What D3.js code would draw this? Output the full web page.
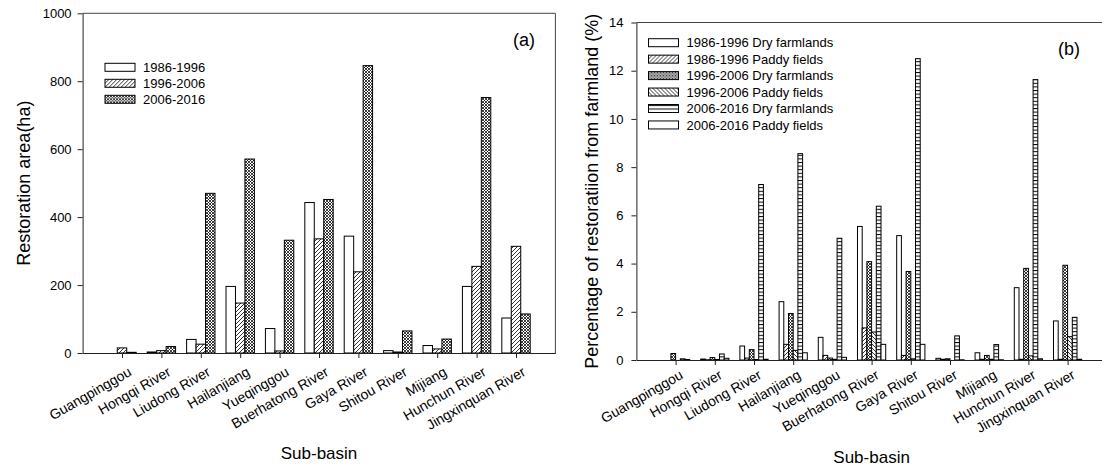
<!DOCTYPE html>
<html>
<head>
<meta charset="utf-8">
<script src="https://cdn.jsdelivr.net/npm/d3@7"></script>
<style>
  body { margin: 0; background: #fff; }
  text { font-family: "Liberation Sans", Arial, sans-serif; fill: #000; }
</style>
</head>
<body>
<div id="vis"></div>
<script>
const categories = ["Guangpinggou", "Hongqi River", "Liudong River", "Hailanjiang", "Yueqinggou",
    "Buerhatong River", "Gaya River", "Shitou River", "Mijiang", "Hunchun River", "Jingxinquan River"];

// panel (a): restoration area (ha)
const areaNames = ["1986-1996", "1996-2006", "2006-2016"];
const area1986 = [0, 3, 40, 196, 72, 443, 344, 7, 22, 196, 103];
const area1996 = [15, 7, 26, 147, 6, 336, 239, 3, 12, 255, 314];
const area2006 = [2, 19, 470, 571, 332, 452, 846, 65, 41, 752, 115];
const areaTicks = [0, 200, 400, 600, 800, 1000];

// panel (b): percentage of restoration from farmland (%)
const pctNames = ["1986-1996 Dry farmlands", "1986-1996 Paddy fields", "1996-2006 Dry farmlands",
    "1996-2006 Paddy fields", "2006-2016 Dry farmlands", "2006-2016 Paddy fields"];
const dry1986 = [0, 0.04, 0.58, 2.42, 0.94, 5.54, 5.16, 0.07, 0.30, 3.0, 1.62];
const paddy1986 = [0, 0.01, 0.08, 0.65, 0.19, 1.33, 0.19, 0.03, 0.03, 0.03, 0.03];
const dry1996 = [0.27, 0.1, 0.43, 1.93, 0.08, 4.08, 3.67, 0.05, 0.19, 3.80, 3.93];
const paddy1996 = [0, 0.02, 0.02, 0.40, 0.03, 1.16, 0.05, 0, 0.03, 0.17, 0.97];
const dry2006 = [0.05, 0.25, 7.28, 8.56, 5.05, 6.38, 12.5, 1.0, 0.64, 11.63, 1.77];
const paddy2006 = [0.02, 0.07, 0.03, 0.30, 0.11, 0.65, 0.65, 0.01, 0.01, 0.05, 0.03];
const pctTicks = [0, 2, 4, 6, 8, 10, 12, 14];

const width = 1102, height = 470;

var svg = d3.select("#vis")
    .append("svg")
    .attr("width", width)
    .attr("height", height);

// fill patterns (SigmaPlot style hatches)
var defs = svg.append("defs");
function addPattern(id, w, h, d, sw) {
    var p = defs.append("pattern")
        .attr("id", id)
        .attr("patternUnits", "userSpaceOnUse")
        .attr("width", w)
        .attr("height", h);
    p.append("rect").attr("width", w).attr("height", h).attr("fill", "#fff");
    p.append("path").attr("d", d).attr("stroke", "#000").attr("stroke-width", sw).attr("fill", "none");
}
addPattern("fwd", 4, 4, "M-1,1 l2,-2 M0,4 l4,-4 M3,5 l2,-2", 0.8);
addPattern("back", 4, 4, "M-1,3 l2,2 M0,0 l4,4 M3,-1 l2,2", 0.8);
addPattern("cross", 3, 3, "M-1,1 l2,-2 M0,3 l3,-3 M2,4 l2,-2 M-1,2 l2,2 M0,0 l3,3 M2,-1 l2,2", 0.75);
addPattern("horiz", 4, 3.6, "M0,0.5 h4", 1);

function drawPanel(cfg) {
    var g = svg.append("g");

    var x = d3.scaleLinear().domain([0, 12]).range([cfg.left, cfg.right]);
    var y = d3.scaleLinear().domain([0, cfg.yMax]).range([cfg.bottom, cfg.top]);

    var groupW = 0.72 * (x(1) - x(0));
    var inner = d3.scaleBand()
        .domain(d3.range(cfg.series.length))
        .range([-groupW / 2, groupW / 2]);

    // frame: top and right lines
    g.append("path")
        .attr("d", "M" + cfg.left + "," + cfg.top + "H" + cfg.right + "V" + cfg.bottom)
        .attr("fill", "none")
        .attr("stroke", "#444")
        .attr("stroke-width", 1);

    // bars, one group per series
    cfg.series.forEach(function (s, si) {
        var pts = s.values
            .map(function (v, i) { return { v: v, i: i }; })
            .filter(function (d) { return d.v > 0; });
        g.append("g").selectAll("rect")
            .data(pts)
            .enter()
            .append("rect")
            .attr("x", function (d) { return x(d.i + 1) + inner(si); })
            .attr("width", inner.bandwidth())
            .attr("y", function (d) { return y(d.v); })
            .attr("height", function (d) { return y(0) - y(d.v); })
            .attr("fill", s.fill)
            .attr("stroke", "#000")
            .attr("stroke-width", 1);
    });

    // x axis
    var xAxis = g.append("g")
        .attr("transform", "translate(0," + cfg.bottom + ")")
        .call(d3.axisBottom(x)
            .tickValues(d3.range(1, 12))
            .tickFormat(function (d) { return categories[d - 1]; })
            .tickSize(5)
            .tickSizeOuter(0));
    xAxis.selectAll("text")
        .attr("x", 0)
        .attr("y", 0)
        .attr("dy", "0.71em")
        .attr("text-anchor", "end")
        .attr("font-size", 14)
        .attr("transform", "translate(" + cfg.labelDx + "," + cfg.labelGap + ") rotate(-30)");

    // y axis
    var yAxis = g.append("g")
        .attr("transform", "translate(" + cfg.left + ",0)")
        .call(d3.axisLeft(y)
            .tickValues(cfg.yTicks)
            .tickFormat(d3.format("d"))
            .tickSize(5)
            .tickPadding(cfg.tickPad)
            .tickSizeOuter(0));
    yAxis.selectAll("text").attr("font-size", 13);
    g.selectAll(".domain, .tick line").attr("stroke", "#222");

    // axis titles
    g.append("text")
        .attr("transform", "translate(" + cfg.yTitleX + "," + ((cfg.top + cfg.bottom) / 2) + ") rotate(-90)")
        .attr("text-anchor", "middle")
        .attr("dy", "0.35em")
        .attr("font-size", 18)
        .text(cfg.yTitle);
    g.append("text")
        .attr("x", (cfg.left + cfg.right) / 2)
        .attr("y", cfg.xTitleY)
        .attr("text-anchor", "middle")
        .attr("dy", "0.35em")
        .attr("font-size", 17)
        .text("Sub-basin");

    // panel letter
    g.append("text")
        .attr("x", cfg.tagX)
        .attr("y", cfg.top + 26)
        .attr("text-anchor", "middle")
        .attr("dy", "0.35em")
        .attr("font-size", 18)
        .text(cfg.tag);

    // legend
    var leg = g.append("g").selectAll("g")
        .data(cfg.series)
        .enter()
        .append("g")
        .attr("transform", function (d, i) { return "translate(" + cfg.legX + "," + (cfg.legY + i * cfg.legStep) + ")"; });
    leg.append("rect")
        .attr("x", 0)
        .attr("y", -4)
        .attr("width", 30)
        .attr("height", 8)
        .attr("fill", function (d) { return d.fill; })
        .attr("stroke", "#000")
        .attr("stroke-width", 1);
    leg.append("text")
        .attr("x", 38)
        .attr("dy", "0.35em")
        .attr("font-size", 13)
        .text(function (d) { return d.name; });
}

drawPanel({
    left: 82.6, right: 555.4, top: 13.3, bottom: 353,
    yMax: 1000, yTicks: areaTicks, tickPad: 6, labelGap: 13, labelDx: 5,
    yTitle: "Restoration area(ha)", yTitleX: 24, xTitleY: 453,
    tag: "(a)", tagX: 524,
    legX: 105, legY: 67.3, legStep: 16,
    series: [
        { name: areaNames[0], values: area1986, fill: "#fff" },
        { name: areaNames[1], values: area1996, fill: "url(#fwd)" },
        { name: areaNames[2], values: area2006, fill: "url(#cross)" }
    ]
});

drawPanel({
    left: 636.4, right: 1106.8, top: 22.5, bottom: 360,
    yMax: 14, yTicks: pctTicks, tickPad: 8, labelGap: 9, labelDx: 3,
    yTitle: "Percentage of restoratiion from farmland (%)", yTitleX: 592, xTitleY: 457,
    tag: "(b)", tagX: 1069,
    legX: 648.5, legY: 42.7, legStep: 16.45,
    series: [
        { name: pctNames[0], values: dry1986, fill: "#fff" },
        { name: pctNames[1], values: paddy1986, fill: "url(#fwd)" },
        { name: pctNames[2], values: dry1996, fill: "url(#cross)" },
        { name: pctNames[3], values: paddy1996, fill: "url(#back)" },
        { name: pctNames[4], values: dry2006, fill: "url(#horiz)" },
        { name: pctNames[5], values: paddy2006, fill: "#fff" }
    ]
});
</script>
</body>
</html>
